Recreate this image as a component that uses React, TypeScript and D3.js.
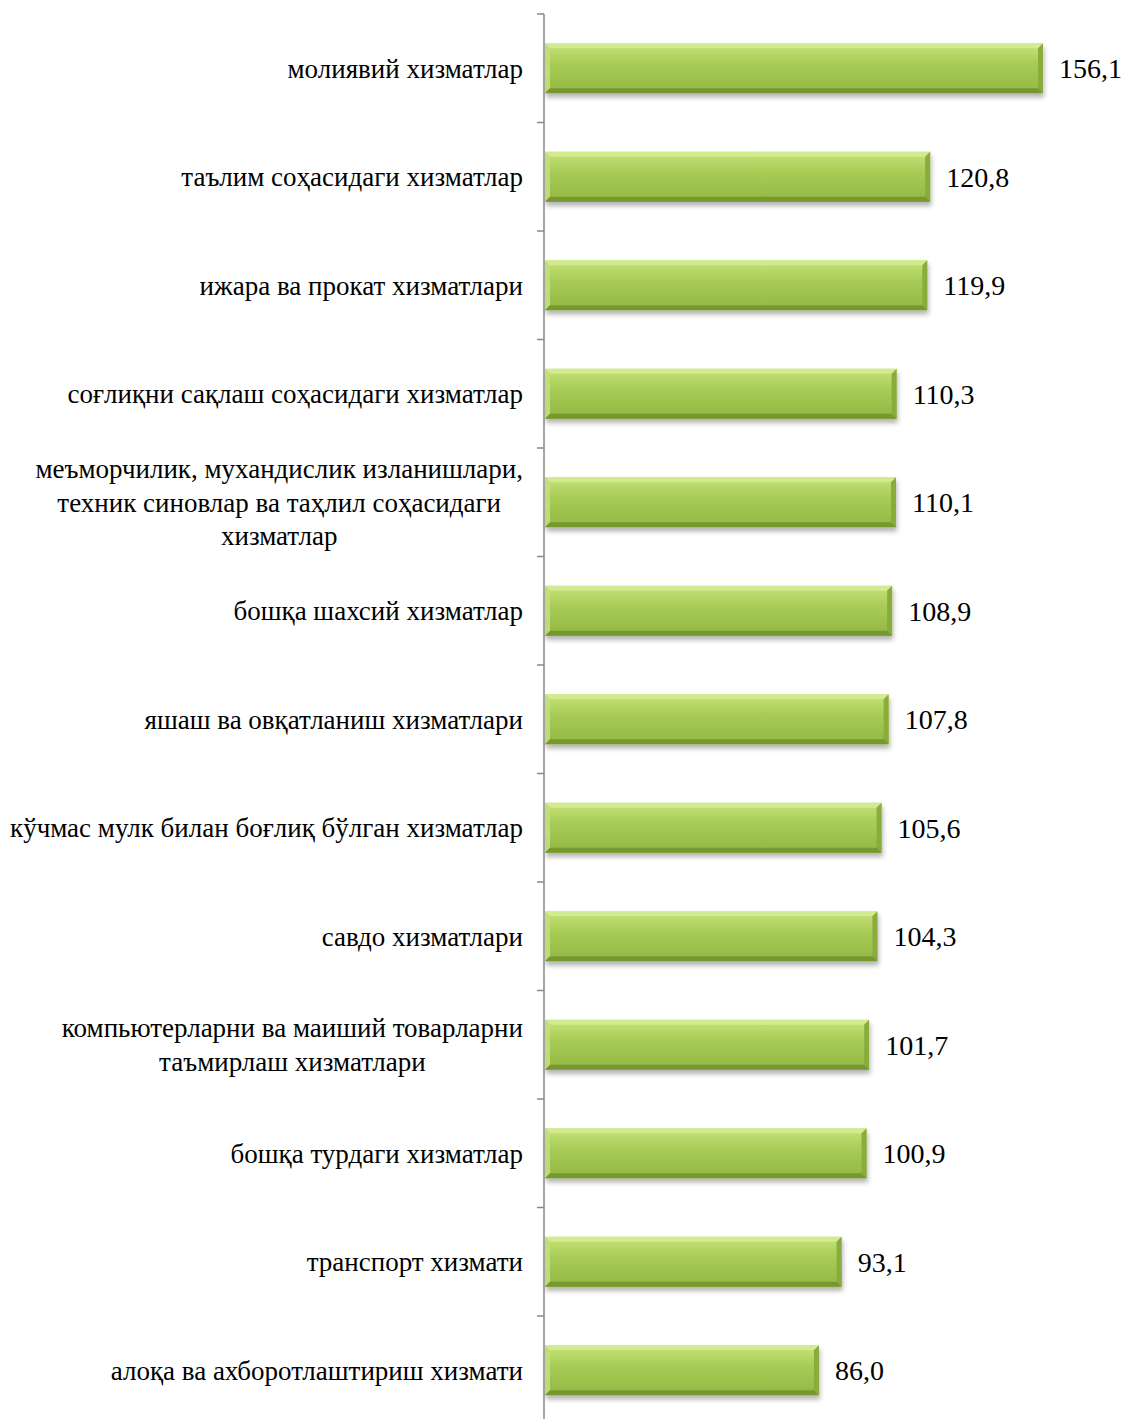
import React, { useRef, useEffect } from 'react';
import * as d3 from 'd3';

const categories: string[] = [
  'молиявий хизматлар',
  'таълим соҳасидаги хизматлар',
  'ижара ва прокат хизматлари',
  'соғлиқни сақлаш соҳасидаги хизматлар',
  'меъморчилик, мухандислик изланишлари,\nтехник синовлар ва таҳлил соҳасидаги\nхизматлар',
  'бошқа шахсий хизматлар',
  'яшаш ва овқатланиш хизматлари',
  'кўчмас мулк билан боғлиқ бўлган хизматлар',
  'савдо хизматлари',
  'компьютерларни ва маиший товарларни\nтаъмирлаш хизматлари',
  'бошқа турдаги хизматлар',
  'транспорт хизмати',
  'алоқа ва ахборотлаштириш хизмати',
];

const values: number[] = [156.1, 120.8, 119.9, 110.3, 110.1, 108.9, 107.8, 105.6, 104.3, 101.7, 100.9, 93.1, 86.0];

const WIDTH = 1125;
const HEIGHT = 1419;
const AXIS_X = 544;
const TOP = 14;
const BAND = 108.5;

const App: React.FC = () => {
  const svgRef = useRef<SVGSVGElement | null>(null);

  useEffect(() => {
    if (!svgRef.current) return;
    const svg = d3.select(svgRef.current);
    svg.selectAll('*').remove();

    const defs = svg.append('defs');
    const grad = defs.append('linearGradient')
      .attr('id', 'barGrad')
      .attr('x1', 0).attr('y1', 0).attr('x2', 0).attr('y2', 1);
    grad.append('stop').attr('offset', '0%').attr('stop-color', '#c6e37a');
    grad.append('stop').attr('offset', '40%').attr('stop-color', '#a9cc57');
    grad.append('stop').attr('offset', '100%').attr('stop-color', '#93b743');

    const shadow = defs.append('filter')
      .attr('id', 'shadow')
      .attr('x', '-5%').attr('y', '-20%').attr('width', '110%').attr('height', '160%');
    shadow.append('feGaussianBlur').attr('in', 'SourceAlpha').attr('stdDeviation', 2.5);
    shadow.append('feOffset').attr('dx', 1).attr('dy', 4).attr('result', 'off');
    shadow.append('feComponentTransfer').append('feFuncA').attr('type', 'linear').attr('slope', 0.3);
    const merge = shadow.append('feMerge');
    merge.append('feMergeNode');
    merge.append('feMergeNode').attr('in', 'SourceGraphic');

    const yScale = d3.scaleBand<number>()
      .domain(d3.range(categories.length))
      .range([TOP, TOP + BAND * categories.length])
      .paddingInner(0.54)
      .paddingOuter(0.27);

    const xScale = d3.scaleLinear()
      .domain([0, 170])
      .range([AXIS_X, AXIS_X + 170 * 3.197]);

    const bh = yScale.bandwidth();
    const bevel = 5;

    const bars = svg.append('g')
      .selectAll('g.bar')
      .data(values)
      .enter()
      .append('g')
      .attr('class', 'bar')
      .attr('filter', 'url(#shadow)');

    bars.each(function (d, i) {
      const g = d3.select(this);
      const x0 = xScale(0) + 1;
      const x1 = xScale(d);
      const y0 = yScale(i) as number;
      const y1 = y0 + bh;
      g.append('rect')
        .attr('x', x0).attr('y', y0)
        .attr('width', x1 - x0).attr('height', bh)
        .attr('fill', 'url(#barGrad)');
      // top bevel
      g.append('polygon')
        .attr('points', `${x0},${y0} ${x1},${y0} ${x1 - bevel},${y0 + bevel} ${x0 + bevel},${y0 + bevel}`)
        .attr('fill', '#d4ec92').attr('opacity', 0.9);
      // left bevel
      g.append('polygon')
        .attr('points', `${x0},${y0} ${x0 + bevel},${y0 + bevel} ${x0 + bevel},${y1 - bevel} ${x0},${y1}`)
        .attr('fill', '#c2df78').attr('opacity', 0.9);
      // right bevel
      g.append('polygon')
        .attr('points', `${x1},${y0} ${x1},${y1} ${x1 - bevel},${y1 - bevel} ${x1 - bevel},${y0 + bevel}`)
        .attr('fill', '#8aac3c');
      // bottom bevel
      g.append('polygon')
        .attr('points', `${x0},${y1} ${x0 + bevel},${y1 - bevel} ${x1 - bevel},${y1 - bevel} ${x1},${y1}`)
        .attr('fill', '#76982f');
    });

    // value labels
    svg.append('g')
      .selectAll('text')
      .data(values)
      .enter()
      .append('text')
      .attr('x', d => xScale(d) + 16)
      .attr('y', (_, i) => (yScale(i) as number) + bh / 2)
      .attr('dy', '0.35em')
      .style('font-family', '"Liberation Serif", "Times New Roman", serif')
      .style('font-size', '28px')
      .attr('fill', '#000')
      .text(d => d.toFixed(1).replace('.', ','));

    // axis
    const axisG = svg.append('g');
    axisG.append('line')
      .attr('x1', AXIS_X).attr('x2', AXIS_X)
      .attr('y1', TOP).attr('y2', TOP + BAND * categories.length)
      .attr('stroke', '#888').attr('stroke-width', 1.5);
    axisG.selectAll('line.tick')
      .data(d3.range(categories.length + 1))
      .enter()
      .append('line')
      .attr('class', 'tick')
      .attr('x1', AXIS_X - 7).attr('x2', AXIS_X)
      .attr('y1', i => TOP + i * BAND).attr('y2', i => TOP + i * BAND)
      .attr('stroke', '#888').attr('stroke-width', 1.5);

    // category labels
    const fontSize = 27;
    const lineH = 33.5;
    const labelRight = 523;
    const labels = svg.append('g')
      .style('font-family', '"Liberation Serif", "Times New Roman", serif')
      .style('font-size', `${fontSize}px`)
      .attr('fill', '#000');

    categories.forEach((cat, i) => {
      const lines = cat.split('\n');
      const cy = (yScale(i) as number) + bh / 2;
      const t = labels.append('text').attr('text-anchor', 'middle');
      lines.forEach((ln, j) => {
        t.append('tspan')
          .attr('y', cy + (j - (lines.length - 1) / 2) * lineH)
          .attr('dy', '0.35em')
          .text(ln);
      });
      let maxW = 0;
      t.selectAll<SVGTSpanElement, unknown>('tspan').each(function () {
        maxW = Math.max(maxW, this.getComputedTextLength());
      });
      t.selectAll('tspan').attr('x', labelRight - maxW / 2);
    });
  }, []);

  return (
    <svg
      ref={svgRef}
      width={WIDTH}
      height={HEIGHT}
      style={{ display: 'block', position: 'absolute', left: 0, top: 0, background: '#fff' }}
    />
  );
};

export default App;
